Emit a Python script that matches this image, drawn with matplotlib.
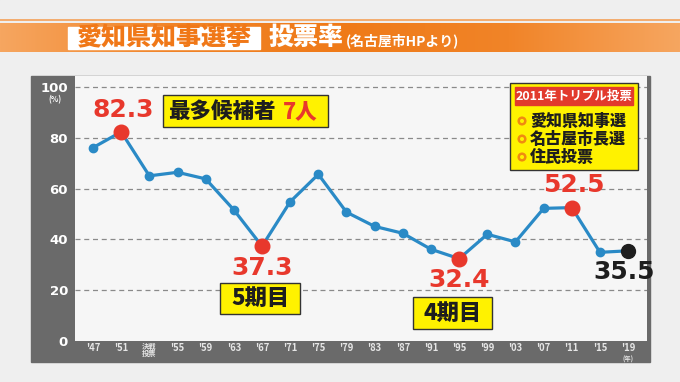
import matplotlib
matplotlib.use("Agg")
import matplotlib.pyplot as plt
import numpy as np
from matplotlib.patches import Rectangle, Circle
from matplotlib.colors import LinearSegmentedColormap

plt.rcParams['font.family'] = ['Noto Sans CJK JP', 'DejaVu Sans']

# ---- data ----
year_labels = ["'47", "'51", "決戦\n投票", "'55", "'59", "'63", "'67", "'71", "'75", "'79",
               "'83", "'87", "'91", "'95", "'99", "'03", "'07", "'11", "'15", "'19"]
turnout = [76.1, 82.3, 65.0, 66.4, 63.8, 51.6, 37.3, 54.8, 65.6, 50.7,
           45.1, 42.4, 36.1, 32.4, 42.0, 39.0, 52.2, 52.5, 34.9, 35.5]
red_points = [1, 6, 13, 17]
black_points = [19]
y_ticks = [0, 20, 40, 60, 80, 100]

title_main = "愛知県知事選挙"
title_sub = "投票率"
title_src = "(名古屋市HPより)"
note_top = "最多候補者"
note_top_red = "7人"
box_5 = "5期目"
box_4 = "4期目"
legend_head = "2011年トリプル投票"
legend_items = ["愛知県知事選", "名古屋市長選", "住民投票"]

W, H = 680, 382
fig = plt.figure(figsize=(W / 100, H / 100), dpi=100)
fig.patch.set_facecolor('#eeeeee')

bg = fig.add_axes([0, 0, 1, 1], zorder=0)
bg.set_xlim(0, W)
bg.set_ylim(H, 0)
bg.axis('off')

# background panel
bg.add_patch(Rectangle((0, 0), W, H, color='#efefef', zorder=0))

# orange title band
cmap = LinearSegmentedColormap.from_list('o', ['#f6a660', '#f18428', '#ef7a18', '#f18428', '#f6a660'])
grad = np.linspace(0, 1, 256).reshape(1, -1)
bg.imshow(grad, cmap=cmap, aspect='auto', extent=(0, W, 52, 23), zorder=1)
bg.plot([0, W], [20, 20], color='#f4a058', lw=1.2, zorder=1)
bg.add_patch(Rectangle((68, 26.5), 192, 22, color='white', zorder=2))
bg.text(164, 37.5, title_main, color='#f07818', fontsize=18, fontweight='heavy',
        ha='center', va='center', zorder=3)
bg.text(306, 37, title_sub, color='white', fontsize=18, fontweight='heavy',
        ha='center', va='center', zorder=3)
bg.text(346, 45, title_src, color='white', fontsize=10, fontweight='bold',
        ha='left', va='baseline', zorder=3)

# dark frame
bg.add_patch(Rectangle((31, 76), 619, 286, color='#6a6a6a', zorder=1))

# plot axes
ax = fig.add_axes([75 / W, (H - 341) / H, 572 / W, 265 / H], zorder=2)
ax.set_facecolor('#f6f6f6')
ax.set_xlim(-0.64, 19.67)
ax.set_ylim(0, 104.3)
for s in ax.spines.values():
    s.set_visible(False)
x = np.arange(len(turnout))
for yv in y_ticks[1:]:
    ax.axhline(yv, color='#8a8a8a', lw=0.9, ls=(0, (4, 3)), zorder=1)
ax.plot(x, turnout, color='#2a8ac6', lw=2.3, marker='o', ms=6, mfc='#2a8ac6',
        mec='#2a8ac6', zorder=3, clip_on=False)
for i in red_points:
    ax.plot(x[i], turnout[i], 'o', ms=10.5, color='#e8382c', zorder=4, clip_on=False)
for i in black_points:
    ax.plot(x[i], turnout[i], 'o', ms=10, color='#1e1e1e', zorder=4, clip_on=False)

ax.set_yticks(y_ticks)
ax.set_yticklabels([str(v) for v in y_ticks], color='white', fontsize=9.5,
                   fontweight='bold', family=['DejaVu Sans'])
ax.set_xticks(x)
xl = ax.set_xticklabels(year_labels, color='#e6e6e6', fontsize=6.8, fontweight='bold',
                        linespacing=0.9)
for t in xl:
    t.set_va('top')
    if '\n' in t.get_text():
        t.set_fontsize(5.2)
ax.tick_params(axis='both', length=0)
ax.tick_params(axis='y', pad=5)
ax.tick_params(axis='x', pad=1.5)

# unit labels
ax.annotate('(%)', xy=(0, 1), xycoords=('axes fraction', 'axes fraction'),
            xytext=(-14.5, -13.5), textcoords='offset points', color='white',
            fontsize=5.5, fontweight='bold', ha='center', va='top', annotation_clip=False)
ax.annotate('(年)', xy=(x[-1], 0), xycoords='data', xytext=(0, -11),
            textcoords='offset points', color='#e6e6e6', fontsize=4.5,
            fontweight='bold', ha='center', va='top', annotation_clip=False)

# value labels
def vlabel(i, dx, dy, color):
    ax.annotate(f"{turnout[i]:.1f}", xy=(x[i], turnout[i]), xytext=(dx, dy),
                textcoords='offset points', color=color, fontsize=18,
                fontweight='bold', ha='center', va='center', family=['DejaVu Sans'],
                zorder=6, annotation_clip=False)

vlabel(1, 1.5, 16, '#e8382c')
vlabel(6, 0, -16, '#e8382c')
vlabel(13, 0, -15.5, '#e8382c')
vlabel(17, 1.5, 16, '#e8382c')
vlabel(19, -3, -15.5, '#1e1e1e')

# boxes (figure pixel coordinates on top layer)
top = fig.add_axes([0, 0, 1, 1], zorder=5)
top.set_xlim(0, W)
top.set_ylim(H, 0)
top.axis('off')
top.patch.set_alpha(0)

def ybox(x0, y0, w, h):
    top.add_patch(Rectangle((x0, y0), w, h, facecolor='#fff200', edgecolor='#333333', lw=1.0))

ybox(163, 95, 165, 32)
top.text(168, 111.5, note_top, color='#1e1e1e', fontsize=15.5, fontweight='heavy',
         ha='left', va='center')
top.text(283, 111.5, note_top_red, color='#e8382c', fontsize=15.5, fontweight='heavy',
         ha='left', va='center')

ybox(220, 283, 80, 31)
top.text(260, 298.5, box_5, color='#1e1e1e', fontsize=16, fontweight='heavy',
         ha='center', va='center')
ybox(413, 297, 79, 32)
top.text(452.5, 313, box_4, color='#1e1e1e', fontsize=16, fontweight='heavy',
         ha='center', va='center')

# legend box
ybox(510, 83, 128, 87)
top.add_patch(Rectangle((515, 87), 118, 18, color='#e23a2c'))
top.text(574, 96, legend_head, color='white', fontsize=9, fontweight='bold',
         ha='center', va='center')
for k, item in enumerate(legend_items):
    yy = 121 + k * 18
    top.add_patch(Circle((522, yy), 3.3, facecolor='#fff200', edgecolor='#f08a10', lw=1.8))
    top.text(530, yy, item, color='#1e1e1e', fontsize=11.5, fontweight='heavy',
             ha='left', va='center')

fig.savefig('out.png', dpi=100, facecolor=fig.get_facecolor())
